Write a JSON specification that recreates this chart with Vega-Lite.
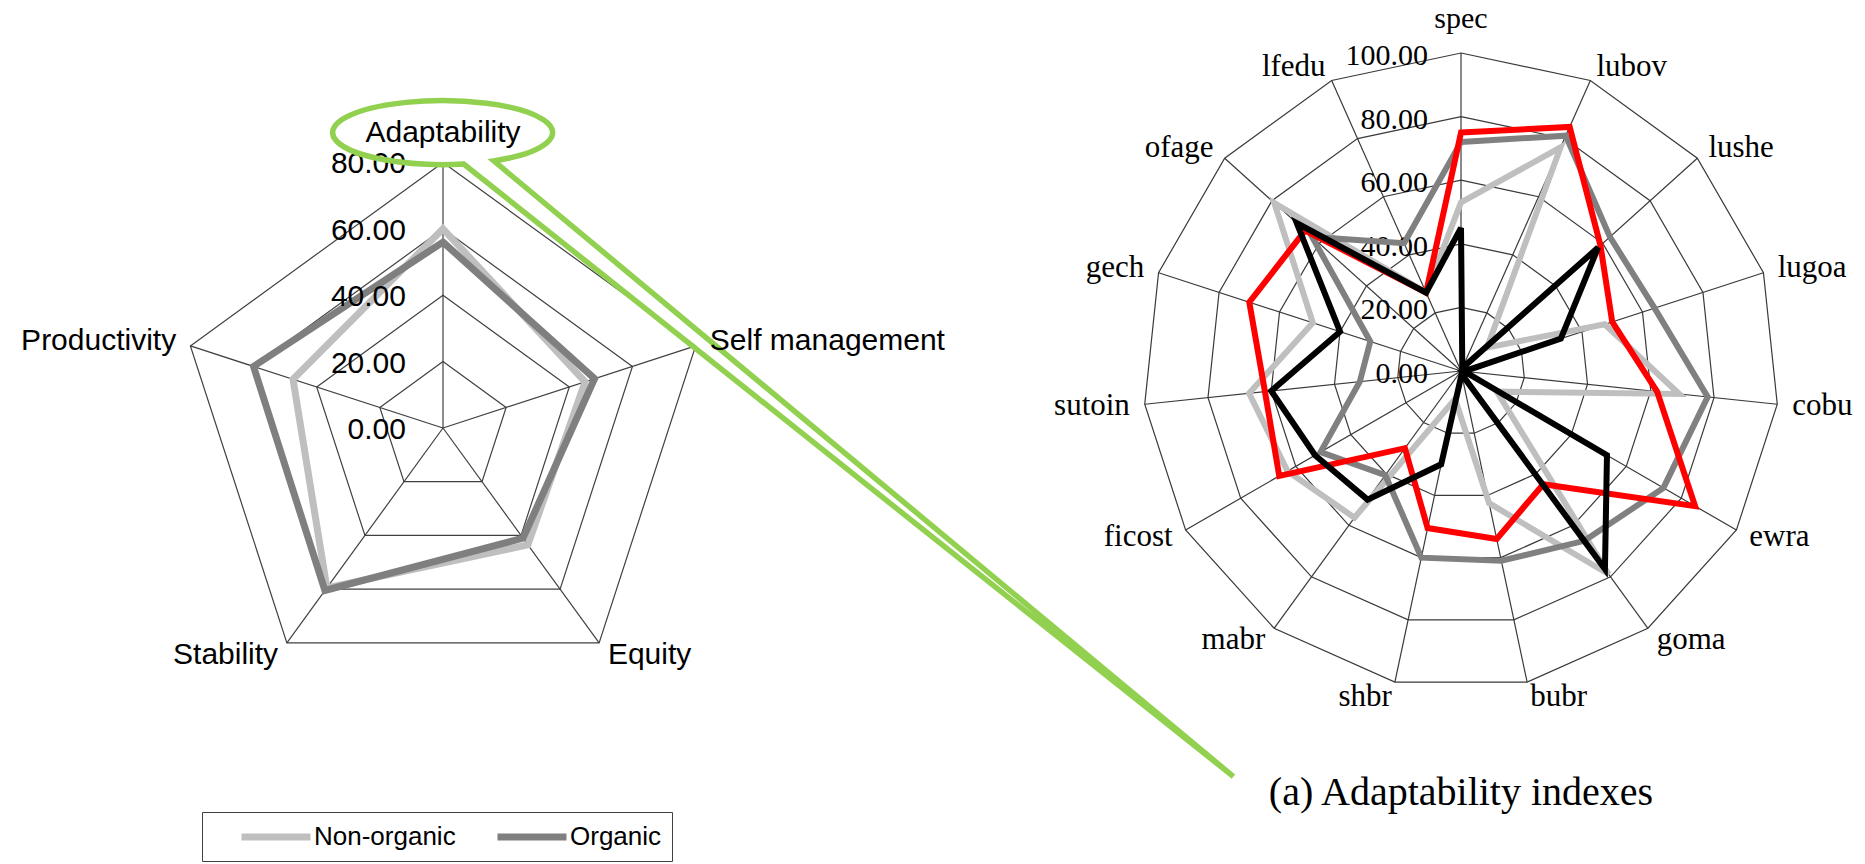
{
  "$schema": "https://vega.github.io/schema/vega-lite/v6.json",
  "width": 1865,
  "height": 864,
  "autosize": {"type": "fit", "contains": "padding"},
  "padding": 0,
  "background": "#ffffff",
  "config": {"view": {"stroke": null}},
  "datasets": {
    "leftAxes": [
      {"axis": "Adaptability", "i": 0, "rings": [20, 40, 60, 80]},
      {"axis": "Self management", "i": 1, "rings": [20, 40, 60, 80]},
      {"axis": "Equity", "i": 2, "rings": [20, 40, 60, 80]},
      {"axis": "Stability", "i": 3, "rings": [20, 40, 60, 80]},
      {"axis": "Productivity", "i": 4, "rings": [20, 40, 60, 80]}
    ],
    "leftValues": [
      {"series": "Non-organic", "axis": "Adaptability", "i": 0, "value": 60},
      {"series": "Non-organic", "axis": "Self management", "i": 1, "value": 45},
      {"series": "Non-organic", "axis": "Equity", "i": 2, "value": 43.5},
      {"series": "Non-organic", "axis": "Stability", "i": 3, "value": 59.5},
      {"series": "Non-organic", "axis": "Productivity", "i": 4, "value": 47.5},
      {"series": "Organic", "axis": "Adaptability", "i": 0, "value": 56},
      {"series": "Organic", "axis": "Self management", "i": 1, "value": 48},
      {"series": "Organic", "axis": "Equity", "i": 2, "value": 41},
      {"series": "Organic", "axis": "Stability", "i": 3, "value": 60.5},
      {"series": "Organic", "axis": "Productivity", "i": 4, "value": 60}
    ],
    "leftTicks": [{"level": 0}, {"level": 20}, {"level": 40}, {"level": 60}, {"level": 80}],
    "rightAxes": [
      {"axis": "spec", "i": 0, "rings": [20, 40, 60, 80, 100]},
      {"axis": "lubov", "i": 1, "rings": [20, 40, 60, 80, 100]},
      {"axis": "lushe", "i": 2, "rings": [20, 40, 60, 80, 100]},
      {"axis": "lugoa", "i": 3, "rings": [20, 40, 60, 80, 100]},
      {"axis": "cobu", "i": 4, "rings": [20, 40, 60, 80, 100]},
      {"axis": "ewra", "i": 5, "rings": [20, 40, 60, 80, 100]},
      {"axis": "goma", "i": 6, "rings": [20, 40, 60, 80, 100]},
      {"axis": "bubr", "i": 7, "rings": [20, 40, 60, 80, 100]},
      {"axis": "shbr", "i": 8, "rings": [20, 40, 60, 80, 100]},
      {"axis": "mabr", "i": 9, "rings": [20, 40, 60, 80, 100]},
      {"axis": "ficost", "i": 10, "rings": [20, 40, 60, 80, 100]},
      {"axis": "sutoin", "i": 11, "rings": [20, 40, 60, 80, 100]},
      {"axis": "gech", "i": 12, "rings": [20, 40, 60, 80, 100]},
      {"axis": "ofage", "i": 13, "rings": [20, 40, 60, 80, 100]},
      {"axis": "lfedu", "i": 14, "rings": [20, 40, 60, 80, 100]}
    ],
    "rightValues": [
      {"series": "Non-organic", "axis": "spec", "i": 0, "value": 53},
      {"series": "Non-organic", "axis": "lubov", "i": 1, "value": 77},
      {"series": "Non-organic", "axis": "lushe", "i": 2, "value": 11},
      {"series": "Non-organic", "axis": "lugoa", "i": 3, "value": 47.5},
      {"series": "Non-organic", "axis": "cobu", "i": 4, "value": 69},
      {"series": "Non-organic", "axis": "ewra", "i": 5, "value": 13},
      {"series": "Non-organic", "axis": "goma", "i": 6, "value": 79},
      {"series": "Non-organic", "axis": "bubr", "i": 7, "value": 42.5},
      {"series": "Non-organic", "axis": "shbr", "i": 8, "value": 9},
      {"series": "Non-organic", "axis": "mabr", "i": 9, "value": 57},
      {"series": "Non-organic", "axis": "ficost", "i": 10, "value": 63},
      {"series": "Non-organic", "axis": "sutoin", "i": 11, "value": 67},
      {"series": "Non-organic", "axis": "gech", "i": 12, "value": 49},
      {"series": "Non-organic", "axis": "ofage", "i": 13, "value": 79},
      {"series": "Non-organic", "axis": "lfedu", "i": 14, "value": 27},
      {"series": "Organic", "axis": "spec", "i": 0, "value": 72},
      {"series": "Organic", "axis": "lubov", "i": 1, "value": 81},
      {"series": "Organic", "axis": "lushe", "i": 2, "value": 63},
      {"series": "Organic", "axis": "lugoa", "i": 3, "value": 64},
      {"series": "Organic", "axis": "cobu", "i": 4, "value": 78},
      {"series": "Organic", "axis": "ewra", "i": 5, "value": 73.5},
      {"series": "Organic", "axis": "goma", "i": 6, "value": 66},
      {"series": "Organic", "axis": "bubr", "i": 7, "value": 61},
      {"series": "Organic", "axis": "shbr", "i": 8, "value": 60},
      {"series": "Organic", "axis": "mabr", "i": 9, "value": 40.5},
      {"series": "Organic", "axis": "ficost", "i": 10, "value": 51},
      {"series": "Organic", "axis": "sutoin", "i": 11, "value": 32},
      {"series": "Organic", "axis": "gech", "i": 12, "value": 30},
      {"series": "Organic", "axis": "ofage", "i": 13, "value": 63},
      {"series": "Organic", "axis": "lfedu", "i": 14, "value": 44},
      {"series": "Case A", "axis": "spec", "i": 0, "value": 75},
      {"series": "Case A", "axis": "lubov", "i": 1, "value": 84},
      {"series": "Case A", "axis": "lushe", "i": 2, "value": 59},
      {"series": "Case A", "axis": "lugoa", "i": 3, "value": 50},
      {"series": "Case A", "axis": "cobu", "i": 4, "value": 62},
      {"series": "Case A", "axis": "ewra", "i": 5, "value": 85},
      {"series": "Case A", "axis": "goma", "i": 6, "value": 44},
      {"series": "Case A", "axis": "bubr", "i": 7, "value": 54},
      {"series": "Case A", "axis": "shbr", "i": 8, "value": 50.5},
      {"series": "Case A", "axis": "mabr", "i": 9, "value": 30},
      {"series": "Case A", "axis": "ficost", "i": 10, "value": 66},
      {"series": "Case A", "axis": "sutoin", "i": 11, "value": 62},
      {"series": "Case A", "axis": "gech", "i": 12, "value": 70},
      {"series": "Case A", "axis": "ofage", "i": 13, "value": 66},
      {"series": "Case A", "axis": "lfedu", "i": 14, "value": 27},
      {"series": "Case B", "axis": "spec", "i": 0, "value": 45},
      {"series": "Case B", "axis": "lubov", "i": 1, "value": 1},
      {"series": "Case B", "axis": "lushe", "i": 2, "value": 58},
      {"series": "Case B", "axis": "lugoa", "i": 3, "value": 33},
      {"series": "Case B", "axis": "cobu", "i": 4, "value": 1},
      {"series": "Case B", "axis": "ewra", "i": 5, "value": 53},
      {"series": "Case B", "axis": "goma", "i": 6, "value": 77},
      {"series": "Case B", "axis": "bubr", "i": 7, "value": 1},
      {"series": "Case B", "axis": "shbr", "i": 8, "value": 30},
      {"series": "Case B", "axis": "mabr", "i": 9, "value": 50},
      {"series": "Case B", "axis": "ficost", "i": 10, "value": 53},
      {"series": "Case B", "axis": "sutoin", "i": 11, "value": 60},
      {"series": "Case B", "axis": "gech", "i": 12, "value": 40},
      {"series": "Case B", "axis": "ofage", "i": 13, "value": 69.5},
      {"series": "Case B", "axis": "lfedu", "i": 14, "value": 27}
    ],
    "rightTicks": [{"level": 0}, {"level": 20}, {"level": 40}, {"level": 60}, {"level": 80}, {"level": 100}],
    "caption": [{"text": "(a) Adaptability indexes"}]
  },
  "layer": [
    {
      "layer": [
        {
          "data": {"name": "leftAxes"},
          "transform": [
            {"flatten": ["rings"], "as": ["ring"]},
            {"calculate": "datum.i * 2 * PI / 5", "as": "a"},
            {"calculate": "datum.ring * sin(datum.a)", "as": "px"},
            {"calculate": "datum.ring * cos(datum.a)", "as": "py"}
          ],
          "mark": {"type": "line", "interpolate": "linear-closed", "stroke": "#404040", "strokeWidth": 1.2},
          "encoding": {
            "x": {"field": "px", "type": "quantitative", "scale": {"domain": [-133.43, 428.31], "nice": false, "zero": false}, "axis": null},
            "y": {"field": "py", "type": "quantitative", "scale": {"domain": [-131.33, 128.92], "nice": false, "zero": false}, "axis": null},
            "detail": {"field": "ring", "type": "nominal"},
            "order": {"field": "i", "type": "quantitative"}
          }
        },
        {
          "data": {"name": "leftAxes"},
          "transform": [
            {"calculate": "datum.i * 2 * PI / 5", "as": "a"},
            {"calculate": "80 * sin(datum.a)", "as": "ex"},
            {"calculate": "80 * cos(datum.a)", "as": "ey"}
          ],
          "mark": {"type": "rule", "stroke": "#404040", "strokeWidth": 1.2},
          "encoding": {
            "x": {"field": "ex", "type": "quantitative", "scale": {"domain": [-133.43, 428.31], "nice": false, "zero": false}, "axis": null},
            "y": {"field": "ey", "type": "quantitative", "scale": {"domain": [-131.33, 128.92], "nice": false, "zero": false}, "axis": null},
            "x2": {"datum": 0},
            "y2": {"datum": 0}
          }
        },
        {
          "data": {"name": "leftValues"},
          "transform": [
            {"calculate": "datum.i * 2 * PI / 5", "as": "a"},
            {"calculate": "datum.value * sin(datum.a)", "as": "px"},
            {"calculate": "datum.value * cos(datum.a)", "as": "py"}
          ],
          "mark": {"type": "line", "interpolate": "linear-closed", "strokeWidth": 7, "strokeJoin": "miter"},
          "encoding": {
            "x": {"field": "px", "type": "quantitative", "scale": {"domain": [-133.43, 428.31], "nice": false, "zero": false}, "axis": null},
            "y": {"field": "py", "type": "quantitative", "scale": {"domain": [-131.33, 128.92], "nice": false, "zero": false}, "axis": null},
            "color": {
              "field": "series", "type": "nominal",
              "scale": {"domain": ["Non-organic", "Organic"], "range": ["#bfbfbf", "#7f7f7f"]},
              "legend": {
                "title": null, "orient": "none", "legendX": 202, "legendY": 812, "direction": "horizontal",
                "strokeColor": "#404040", "padding": 10, "symbolType": "M1.26,0L7.26,0", "symbolSize": 529,
                "symbolStrokeWidth": 7, "labelFont": "Liberation Sans", "labelFontSize": 26, "labelColor": "#000000",
                "labelOffset": 72, "columnPadding": 12, "labelLimit": 400
              }
            },
            "order": {"field": "i", "type": "quantitative"}
          }
        },
        {
          "data": {"name": "leftTicks"},
          "mark": {"type": "text", "align": "right", "baseline": "middle", "dx": -37, "dy": 2, "font": "Liberation Sans", "fontSize": 30, "color": "#000000"},
          "encoding": {
            "x": {"datum": 0, "type": "quantitative", "scale": {"domain": [-133.43, 428.31], "nice": false, "zero": false}, "axis": null},
            "y": {"field": "level", "type": "quantitative", "scale": {"domain": [-131.33, 128.92], "nice": false, "zero": false}, "axis": null},
            "text": {"field": "level", "type": "quantitative", "format": ".2f"}
          }
        },
        {
          "data": {"name": "leftAxes"},
          "transform": [
            {"filter": "datum.i == 0"},
            {"calculate": "datum.i * 2 * PI / 5", "as": "a"},
            {"calculate": "89 * sin(datum.a)", "as": "lx"},
            {"calculate": "89 * cos(datum.a)", "as": "ly"}
          ],
          "mark": {
            "type": "point",
            "shape": "M0.462,0.258 A1,0.291,0,1,0,0.189,0.286 L7.186,5.855 Z",
            "size": 48400, "filled": false, "stroke": "#92d050", "strokeWidth": 5.5, "opacity": 1, "strokeJoin": "miter"
          },
          "encoding": {
            "x": {"field": "lx", "type": "quantitative", "scale": {"domain": [-133.43, 428.31], "nice": false, "zero": false}, "axis": null},
            "y": {"field": "ly", "type": "quantitative", "scale": {"domain": [-131.33, 128.92], "nice": false, "zero": false}, "axis": null}
          }
        },
        {
          "data": {"name": "leftAxes"},
          "transform": [
            {"filter": "datum.i == 0"},
            {"calculate": "datum.i * 2 * PI / 5", "as": "a"},
            {"calculate": "89 * sin(datum.a)", "as": "lx"},
            {"calculate": "89 * cos(datum.a)", "as": "ly"}
          ],
          "mark": {"type": "text", "align": "center", "baseline": "middle", "font": "Liberation Sans", "fontSize": 30, "color": "#000000"},
          "encoding": {
            "x": {"field": "lx", "type": "quantitative", "scale": {"domain": [-133.43, 428.31], "nice": false, "zero": false}, "axis": null},
            "y": {"field": "ly", "type": "quantitative", "scale": {"domain": [-131.33, 128.92], "nice": false, "zero": false}, "axis": null},
            "text": {"field": "axis", "type": "nominal"}
          }
        },
        {
          "data": {"name": "leftAxes"},
          "transform": [
            {"calculate": "datum.i * 2 * PI / 5", "as": "a"},
            {"filter": "sin(datum.a) > 0.01"},
            {"calculate": "84.5 * sin(datum.a)", "as": "lx"},
            {"calculate": "84.5 * cos(datum.a)", "as": "ly"}
          ],
          "mark": {"type": "text", "align": "left", "baseline": "middle", "font": "Liberation Sans", "fontSize": 30, "color": "#000000"},
          "encoding": {
            "x": {"field": "lx", "type": "quantitative", "scale": {"domain": [-133.43, 428.31], "nice": false, "zero": false}, "axis": null},
            "y": {"field": "ly", "type": "quantitative", "scale": {"domain": [-131.33, 128.92], "nice": false, "zero": false}, "axis": null},
            "text": {"field": "axis", "type": "nominal"}
          }
        },
        {
          "data": {"name": "leftAxes"},
          "transform": [
            {"calculate": "datum.i * 2 * PI / 5", "as": "a"},
            {"filter": "sin(datum.a) < -0.01"},
            {"calculate": "84.5 * sin(datum.a)", "as": "lx"},
            {"calculate": "84.5 * cos(datum.a)", "as": "ly"}
          ],
          "mark": {"type": "text", "align": "right", "baseline": "middle", "font": "Liberation Sans", "fontSize": 30, "color": "#000000"},
          "encoding": {
            "x": {"field": "lx", "type": "quantitative", "scale": {"domain": [-133.43, 428.31], "nice": false, "zero": false}, "axis": null},
            "y": {"field": "ly", "type": "quantitative", "scale": {"domain": [-131.33, 128.92], "nice": false, "zero": false}, "axis": null},
            "text": {"field": "axis", "type": "nominal"}
          }
        }
      ]
    },
    {
      "layer": [
        {
          "data": {"name": "rightAxes"},
          "transform": [
            {"flatten": ["rings"], "as": ["ring"]},
            {"calculate": "datum.i * 2 * PI / 15", "as": "a"},
            {"calculate": "datum.ring * sin(datum.a)", "as": "px"},
            {"calculate": "datum.ring * cos(datum.a)", "as": "py"}
          ],
          "mark": {"type": "line", "interpolate": "linear-closed", "stroke": "#3a3a3a", "strokeWidth": 1.2},
          "encoding": {
            "x": {"field": "px", "type": "quantitative", "scale": {"domain": [-459.43, 127.04], "nice": false, "zero": false}, "axis": null},
            "y": {"field": "py", "type": "quantitative", "scale": {"domain": [-155.03, 116.67], "nice": false, "zero": false}, "axis": null},
            "detail": {"field": "ring", "type": "nominal"},
            "order": {"field": "i", "type": "quantitative"}
          }
        },
        {
          "data": {"name": "rightAxes"},
          "transform": [
            {"calculate": "datum.i * 2 * PI / 15", "as": "a"},
            {"calculate": "100 * sin(datum.a)", "as": "ex"},
            {"calculate": "100 * cos(datum.a)", "as": "ey"}
          ],
          "mark": {"type": "rule", "stroke": "#3a3a3a", "strokeWidth": 1.2},
          "encoding": {
            "x": {"field": "ex", "type": "quantitative", "scale": {"domain": [-459.43, 127.04], "nice": false, "zero": false}, "axis": null},
            "y": {"field": "ey", "type": "quantitative", "scale": {"domain": [-155.03, 116.67], "nice": false, "zero": false}, "axis": null},
            "x2": {"datum": 0},
            "y2": {"datum": 0}
          }
        },
        {
          "data": {"name": "rightTicks"},
          "mark": {"type": "text", "align": "right", "baseline": "middle", "dx": -33, "dy": 3, "font": "Liberation Serif", "fontSize": 30, "color": "#000000"},
          "encoding": {
            "x": {"datum": 0, "type": "quantitative", "scale": {"domain": [-459.43, 127.04], "nice": false, "zero": false}, "axis": null},
            "y": {"field": "level", "type": "quantitative", "scale": {"domain": [-155.03, 116.67], "nice": false, "zero": false}, "axis": null},
            "text": {"field": "level", "type": "quantitative", "format": ".2f"}
          }
        },
        {
          "data": {"name": "rightValues"},
          "transform": [
            {"calculate": "datum.i * 2 * PI / 15", "as": "a"},
            {"calculate": "datum.value * sin(datum.a)", "as": "px"},
            {"calculate": "datum.value * cos(datum.a)", "as": "py"}
          ],
          "mark": {"type": "line", "interpolate": "linear-closed", "strokeWidth": 6, "strokeJoin": "miter"},
          "encoding": {
            "x": {"field": "px", "type": "quantitative", "scale": {"domain": [-459.43, 127.04], "nice": false, "zero": false}, "axis": null},
            "y": {"field": "py", "type": "quantitative", "scale": {"domain": [-155.03, 116.67], "nice": false, "zero": false}, "axis": null},
            "color": {
              "field": "series", "type": "nominal",
              "scale": {"domain": ["Non-organic", "Organic", "Case A", "Case B"], "range": ["#bfbfbf", "#808080", "#ff0000", "#000000"]},
              "legend": null
            },
            "order": {"field": "i", "type": "quantitative"}
          }
        },
        {
          "data": {"name": "rightAxes"},
          "transform": [
            {"filter": "datum.i == 0"},
            {"calculate": "datum.i * 2 * PI / 15", "as": "a"},
            {"calculate": "110.7 * sin(datum.a)", "as": "lx"},
            {"calculate": "110.7 * cos(datum.a)", "as": "ly"}
          ],
          "mark": {"type": "text", "align": "center", "baseline": "middle", "font": "Liberation Serif", "fontSize": 30, "color": "#000000"},
          "encoding": {
            "x": {"field": "lx", "type": "quantitative", "scale": {"domain": [-459.43, 127.04], "nice": false, "zero": false}, "axis": null},
            "y": {"field": "ly", "type": "quantitative", "scale": {"domain": [-155.03, 116.67], "nice": false, "zero": false}, "axis": null},
            "text": {"field": "axis", "type": "nominal"}
          }
        },
        {
          "data": {"name": "rightAxes"},
          "transform": [
            {"calculate": "datum.i * 2 * PI / 15", "as": "a"},
            {"filter": "sin(datum.a) > 0.01"},
            {"calculate": "104.7 * sin(datum.a)", "as": "lx"},
            {"calculate": "104.7 * cos(datum.a)", "as": "ly"}
          ],
          "mark": {"type": "text", "align": "left", "baseline": "middle", "font": "Liberation Serif", "fontSize": 31, "color": "#000000"},
          "encoding": {
            "x": {"field": "lx", "type": "quantitative", "scale": {"domain": [-459.43, 127.04], "nice": false, "zero": false}, "axis": null},
            "y": {"field": "ly", "type": "quantitative", "scale": {"domain": [-155.03, 116.67], "nice": false, "zero": false}, "axis": null},
            "text": {"field": "axis", "type": "nominal"}
          }
        },
        {
          "data": {"name": "rightAxes"},
          "transform": [
            {"calculate": "datum.i * 2 * PI / 15", "as": "a"},
            {"filter": "sin(datum.a) < -0.01"},
            {"calculate": "104.7 * sin(datum.a)", "as": "lx"},
            {"calculate": "104.7 * cos(datum.a)", "as": "ly"}
          ],
          "mark": {"type": "text", "align": "right", "baseline": "middle", "font": "Liberation Serif", "fontSize": 31, "color": "#000000"},
          "encoding": {
            "x": {"field": "lx", "type": "quantitative", "scale": {"domain": [-459.43, 127.04], "nice": false, "zero": false}, "axis": null},
            "y": {"field": "ly", "type": "quantitative", "scale": {"domain": [-155.03, 116.67], "nice": false, "zero": false}, "axis": null},
            "text": {"field": "axis", "type": "nominal"}
          }
        },
        {
          "data": {"name": "caption"},
          "mark": {"type": "text", "align": "center", "baseline": "middle", "font": "Liberation Serif", "fontSize": 40, "color": "#000000"},
          "encoding": {
            "x": {"datum": 0, "type": "quantitative", "scale": {"domain": [-459.43, 127.04], "nice": false, "zero": false}, "axis": null},
            "y": {"datum": -132.7, "type": "quantitative", "scale": {"domain": [-155.03, 116.67], "nice": false, "zero": false}, "axis": null},
            "text": {"field": "text", "type": "nominal"}
          }
        }
      ]
    }
  ],
  "resolve": {"scale": {"x": "independent", "y": "independent", "color": "independent"}}
}
